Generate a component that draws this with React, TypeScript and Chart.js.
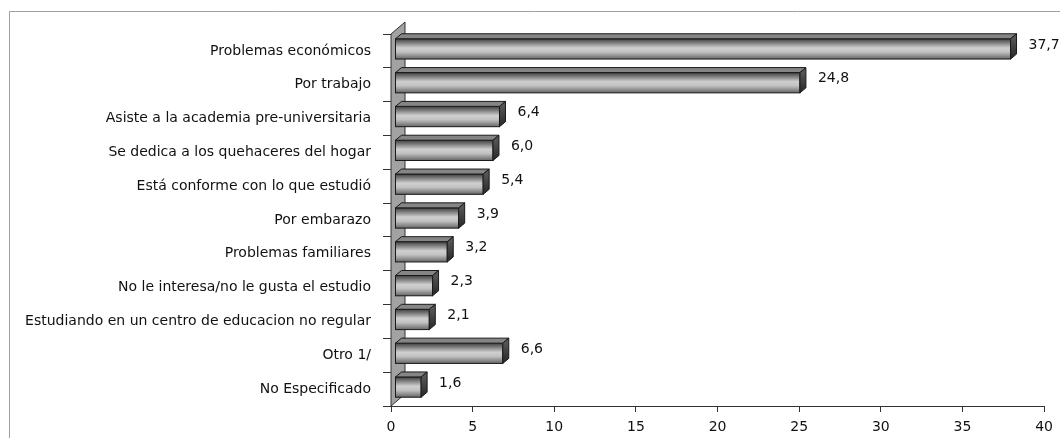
import React, { useEffect, useRef } from "react";
import { Chart, registerables } from "chart.js";

Chart.register(...registerables);

const categories: string[] = [
  "Problemas económicos",
  "Por trabajo",
  "Asiste a la academia pre-universitaria",
  "Se dedica a los quehaceres del hogar",
  "Está conforme con lo que estudió",
  "Por embarazo",
  "Problemas familiares",
  "No le interesa/no le gusta el estudio",
  "Estudiando en un centro de educacion no regular",
  "Otro 1/",
  "No Especificado",
];

const values: number[] = [37.7, 24.8, 6.4, 6.0, 5.4, 3.9, 3.2, 2.3, 2.1, 6.6, 1.6];

const xTicks: number[] = [0, 5, 10, 15, 20, 25, 30, 35, 40];

const FONT = "'DejaVu Sans', Verdana, sans-serif";

const threeD = {
  id: "threeD",
  beforeDraw(chart: any) {
    const ctx = chart.ctx;
    ctx.save();
    ctx.fillStyle = "#ffffff";
    ctx.fillRect(0, 0, chart.width, chart.height);
    ctx.strokeStyle = "#a0a0a0";
    ctx.lineWidth = 1;
    ctx.beginPath();
    ctx.moveTo(9.5, chart.height);
    ctx.lineTo(9.5, 11.5);
    ctx.lineTo(chart.width, 11.5);
    ctx.stroke();
    ctx.restore();
  },
  beforeDatasetsDraw(chart: any) {
    const ctx = chart.ctx;
    const { left, top, bottom } = chart.chartArea;
    ctx.save();
    ctx.beginPath();
    ctx.moveTo(left, bottom);
    ctx.lineTo(left, top);
    ctx.lineTo(left + 14, top - 12);
    ctx.lineTo(left + 14, bottom - 12);
    ctx.closePath();
    ctx.fillStyle = "#a2a2a2";
    ctx.fill();
    ctx.strokeStyle = "#333";
    ctx.lineWidth = 1;
    ctx.stroke();
    ctx.restore();
    ctx.save();
    ctx.translate(4, -2);
  },
  afterDatasetsDraw(chart: any) {
    const ctx = chart.ctx;
    const meta = chart.getDatasetMeta(0);
    const dx = 6;
    const dy = -5;
    meta.data.forEach((bar: any, i: number) => {
      const x = bar.x;
      const base = bar.base;
      const h = bar.height;
      const t = bar.y - h / 2;
      const b = bar.y + h / 2;
      const g = ctx.createLinearGradient(0, t, 0, b);
      g.addColorStop(0, "#404040");
      g.addColorStop(0.2, "#7e7e7e");
      g.addColorStop(0.45, "#cfcfcf");
      g.addColorStop(0.65, "#c2c2c2");
      g.addColorStop(1, "#666666");
      ctx.fillStyle = g;
      ctx.fillRect(base, t, x - base, h);
      ctx.strokeStyle = "#1a1a1a";
      ctx.lineWidth = 1;
      ctx.strokeRect(base, t, x - base, h);
      ctx.beginPath();
      ctx.moveTo(base, t);
      ctx.lineTo(base + dx, t + dy);
      ctx.lineTo(x + dx, t + dy);
      ctx.lineTo(x, t);
      ctx.closePath();
      ctx.fillStyle = "#858585";
      ctx.fill();
      ctx.stroke();
      const gc = ctx.createLinearGradient(0, t, 0, b);
      gc.addColorStop(0, "#555555");
      gc.addColorStop(1, "#262626");
      ctx.beginPath();
      ctx.moveTo(x, t);
      ctx.lineTo(x + dx, t + dy);
      ctx.lineTo(x + dx, b + dy);
      ctx.lineTo(x, b);
      ctx.closePath();
      ctx.fillStyle = gc;
      ctx.fill();
      ctx.stroke();
      ctx.fillStyle = "#111";
      ctx.font = "14px " + FONT;
      ctx.textAlign = "left";
      ctx.textBaseline = "middle";
      ctx.fillText(values[i].toFixed(1).replace(".", ","), x + 18, bar.y - 4);
    });
    ctx.restore();
  },
};

export default function App() {
  const ref = useRef<HTMLCanvasElement | null>(null);

  useEffect(() => {
    if (!ref.current) return;
    const chart = new Chart(ref.current, {
      type: "bar",
      data: {
        labels: categories,
        datasets: [
          {
            data: values,
            backgroundColor: "rgba(0,0,0,0)",
            borderWidth: 0,
            barPercentage: 0.6,
            categoryPercentage: 1,
          },
        ],
      },
      options: {
        indexAxis: "y",
        animation: false,
        responsive: true,
        maintainAspectRatio: false,
        layout: { padding: { top: 34, right: 15, left: 0, bottom: 0 } },
        plugins: {
          legend: { display: false },
          tooltip: { enabled: false },
        },
        scales: {
          x: {
            min: 0,
            max: 40,
            afterBuildTicks: (scale: any) => {
              scale.ticks = xTicks.map((v) => ({ value: v }));
            },
            afterFit: (scale: any) => {
              scale.height = 32;
            },
            ticks: {
              color: "#111",
              font: { family: FONT, size: 14 },
              padding: 7,
              maxRotation: 0,
            },
            grid: {
              drawOnChartArea: false,
              drawTicks: true,
              tickLength: 6,
              color: "#333",
            },
            border: { display: true, color: "#333", width: 1 },
          },
          y: {
            afterFit: (scale: any) => {
              scale.width = 391;
            },
            ticks: {
              color: "#111",
              font: { family: FONT, size: 14 },
              padding: 12,
              autoSkip: false,
            },
            grid: {
              offset: true,
              drawOnChartArea: false,
              drawTicks: true,
              tickLength: 8,
              color: "#333",
            },
            border: { display: true, color: "#333", width: 1 },
          },
        },
      },
      plugins: [threeD],
    });
    return () => chart.destroy();
  }, []);

  return (
    <div
      style={{
        position: "fixed",
        left: 0,
        top: 0,
        width: 1060,
        height: 438,
        background: "#fff",
      }}
    >
      <canvas ref={ref} />
    </div>
  );
}
